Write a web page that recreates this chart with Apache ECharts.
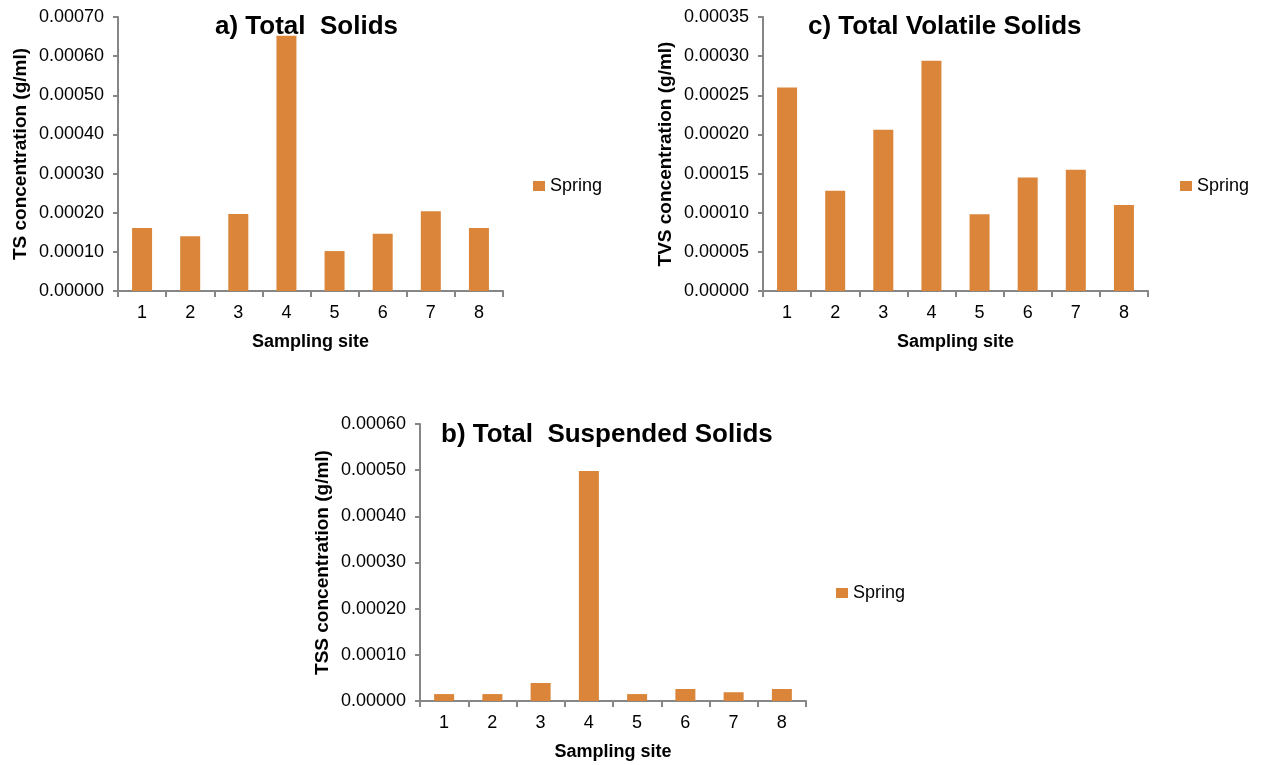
<!DOCTYPE html>
<html>
<head>
<meta charset="utf-8">
<script src="https://cdn.jsdelivr.net/npm/echarts@6/dist/echarts.min.js"></script>
<style>
  html, body { margin: 0; padding: 0; background: #fff; }
  #main { width: 1262px; height: 765px; }
</style>
</head>
<body>
<div id="main"></div>
<script>
// sampling sites
const sites = ['1', '2', '3', '4', '5', '6', '7', '8'];

// values in g/ml
const tsSpring = [0.000161, 0.000140, 0.000197, 0.000652, 0.000102, 0.000146, 0.000204, 0.000161];
const tvsSpring = [0.000260, 0.000128, 0.000206, 0.000294, 0.000098, 0.000145, 0.000155, 0.000110];
const tssSpring = [0.000015, 0.000015, 0.000039, 0.000498, 0.000015, 0.000026, 0.000019, 0.000026];

const barColor = '#DA853A';
const axisGrey = '#868686';
const font = 'Liberation Sans';

const chart = echarts.init(document.getElementById('main'));

// one panel = one grid + its axes
function xAx(idx) {
  return {
    type: 'category', gridIndex: idx, data: sites,
    name: 'Sampling site', nameLocation: 'middle', nameGap: 42,
    nameTextStyle: { fontFamily: font, fontSize: 18, fontWeight: 'bold', color: '#000' },
    axisLine: { lineStyle: { color: axisGrey, width: 2 } },
    axisTick: { show: true, interval: 0, length: 6, lineStyle: { color: axisGrey, width: 2 } },
    axisLabel: { fontFamily: font, fontSize: 18, color: '#000', margin: 13 }
  };
}
function yAx(idx, max, step, label) {
  return {
    type: 'value', gridIndex: idx, min: 0, max: max, interval: step,
    name: label, nameLocation: 'middle', nameRotate: 90, nameGap: 88,
    nameTextStyle: { fontFamily: font, fontSize: 19, fontWeight: 'bold', color: '#000' },
    axisLine: { show: true, lineStyle: { color: axisGrey, width: 2 } },
    axisTick: { show: true, length: 5, lineStyle: { color: axisGrey, width: 2 } },
    splitLine: { show: false },
    axisLabel: { fontFamily: font, fontSize: 18, color: '#000', margin: 14,
      formatter: v => v.toFixed(5) }
  };
}
function legendAt(left, top) {
  return {
    left: left, top: top, itemWidth: 12, itemHeight: 10, icon: 'rect', itemGap: 2,
    data: ['Spring'],
    textStyle: { fontFamily: font, fontSize: 18, color: '#000' }
  };
}
const titleStyle = { fontFamily: font, fontSize: 26, fontWeight: 'bold', color: '#000' };

const option = {
  animation: false,
  title: [
    { text: 'a) Total  Solids', left: 210, top: 9, textStyle: titleStyle },
    { text: 'c) Total Volatile Solids', left: 803, top: 9, textStyle: titleStyle },
    { text: 'b) Total  Suspended Solids', left: 436, top: 417, textStyle: titleStyle }
  ],
  legend: [legendAt(528, 172), legendAt(1175, 172), legendAt(831, 579)],
  grid: [
    { left: 118, top: 17, width: 385, height: 274 },
    { left: 763, top: 17, width: 385, height: 274 },
    { left: 420, top: 424, width: 386, height: 277 }
  ],
  xAxis: [xAx(0), xAx(1), xAx(2)],
  yAxis: [
    yAx(0, 0.0007, 0.0001, 'TS concentration (g/ml)'),
    yAx(1, 0.00035, 0.00005, 'TVS concentration (g/ml)'),
    yAx(2, 0.0006, 0.0001, 'TSS concentration (g/ml)')
  ],
  series: [
    { name: 'Spring', type: 'bar', xAxisIndex: 0, yAxisIndex: 0, data: tsSpring,
      barWidth: 20, itemStyle: { color: barColor } },
    { name: 'Spring', type: 'bar', xAxisIndex: 1, yAxisIndex: 1, data: tvsSpring,
      barWidth: 20, itemStyle: { color: barColor } },
    { name: 'Spring', type: 'bar', xAxisIndex: 2, yAxisIndex: 2, data: tssSpring,
      barWidth: 20, itemStyle: { color: barColor } }
  ]
};
chart.setOption(option);
</script>
</body>
</html>
